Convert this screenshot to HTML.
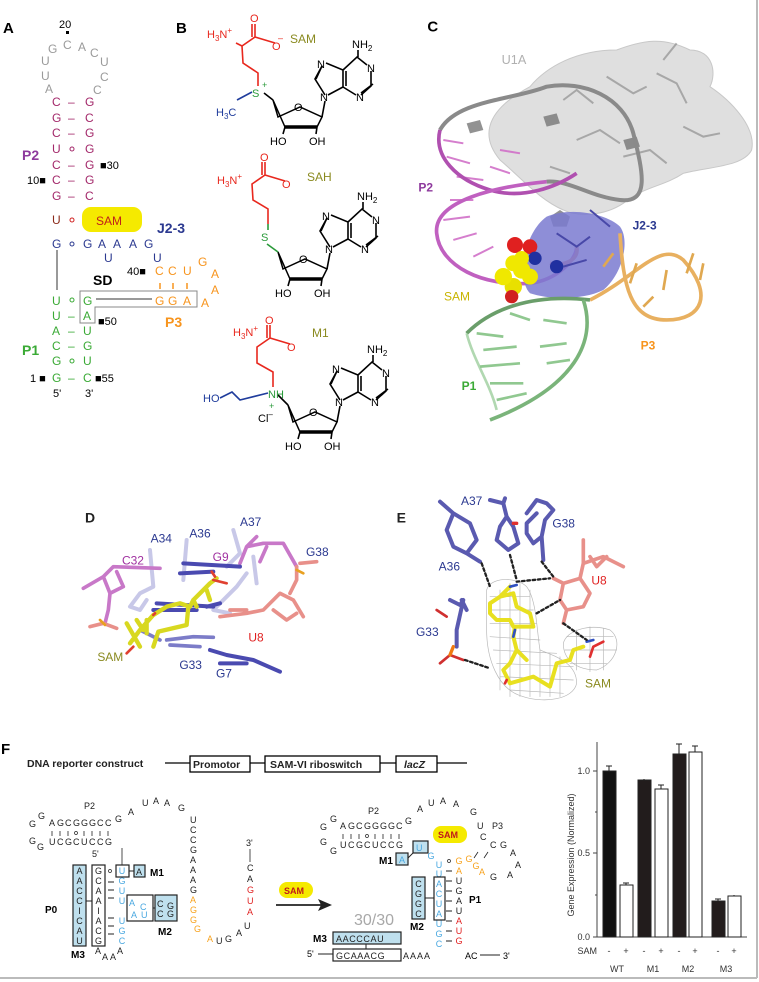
<!DOCTYPE html>
<html><head><meta charset="utf-8"><style>
html,body{margin:0;padding:0;background:#fff}
svg{display:block;font-family:"Liberation Sans",sans-serif}
</style></head><body>
<svg width="759" height="982" viewBox="0 0 759 982" xmlns="http://www.w3.org/2000/svg">
<rect width="759" height="982" fill="#fff"/>
<line x1="757" y1="0" x2="757" y2="978" stroke="#bbb" stroke-width="2"/>
<line x1="0" y1="978" x2="757" y2="978" stroke="#bbb" stroke-width="2"/>

<!-- ===== Panel A ===== -->
<g font-size="12">
<text x="3" y="33" font-size="15" font-weight="bold">A</text>
<text x="59" y="28" font-size="11">20</text>
<rect x="66" y="31" width="3" height="3" fill="#000"/>
<g fill="#9a9a9a">
<text x="48" y="53">G</text><text x="63" y="49">C</text><text x="78" y="51">A</text><text x="90" y="57">C</text>
<text x="41" y="65">U</text><text x="41" y="80">U</text><text x="45" y="93">A</text>
<text x="100" y="66">U</text><text x="100" y="81">C</text><text x="93" y="94">C</text>
</g>
<g fill="#a3286a">
<text x="52" y="106">C</text><text x="85" y="106">G</text>
<text x="52" y="122">G</text><text x="85" y="122">C</text>
<text x="52" y="137">C</text><text x="85" y="137">G</text>
<text x="52" y="153">U</text><text x="85" y="153">G</text>
<text x="52" y="169">C</text><text x="85" y="169">G</text>
<text x="52" y="184">C</text><text x="85" y="184">G</text>
<text x="52" y="200">G</text><text x="85" y="200">C</text>
<text x="68" y="106">–</text><text x="68" y="122">–</text><text x="68" y="137">–</text>
<circle cx="72" cy="149" r="2" fill="none" stroke="#a3286a"/>
<text x="68" y="169">–</text><text x="68" y="184">–</text><text x="68" y="200">–</text>
</g>
<text x="22" y="160" font-size="14" font-weight="bold" fill="#8e3a9d">P2</text>
<text x="100" y="169" font-size="11">■30</text>
<text x="27" y="184" font-size="11">10■</text>
<text x="52" y="224" fill="#8b2a1a">U</text>
<circle cx="72" cy="220" r="2" fill="none" stroke="#d02020"/>
<rect x="82" y="207" width="60" height="25" rx="9" fill="#f5ea00"/>
<text x="96" y="225" fill="#c0201a">SAM</text>
<text x="157" y="233" font-size="14" font-weight="bold" fill="#2b3990">J2-3</text>
<g fill="#2b3990">
<text x="52" y="248">G</text>
<circle cx="72" cy="244" r="2" fill="none" stroke="#2b3990"/>
<text x="83" y="248">G</text><text x="98" y="248">A</text><text x="113" y="248">A</text><text x="129" y="248">A</text><text x="144" y="248">G</text>
<text x="104" y="262">U</text><text x="153" y="262">U</text>
</g>
<text x="127" y="275" font-size="11">40■</text>
<g fill="#f7941d">
<text x="155" y="275">C</text><text x="168" y="275">C</text><text x="183" y="275">U</text>
<text x="198" y="266">G</text><text x="211" y="278">A</text><text x="211" y="294">A</text><text x="201" y="307">A</text>
<line x1="160" y1="283" x2="160" y2="289" stroke="#f7941d" stroke-width="1.5"/>
<line x1="173" y1="283" x2="173" y2="289" stroke="#f7941d" stroke-width="1.5"/>
<line x1="187" y1="283" x2="187" y2="289" stroke="#f7941d" stroke-width="1.5"/>
<text x="155" y="305">G</text><text x="168" y="305">G</text><text x="183" y="305">A</text>
</g>
<text x="93" y="285" font-size="14" font-weight="bold">SD</text>
<line x1="57" y1="250" x2="57" y2="290" stroke="#333"/>
<path d="M80 291 H197 V307 H95 V323 H80 Z" fill="none" stroke="#888"/>
<line x1="96" y1="299" x2="152" y2="299" stroke="#333"/>
<text x="165" y="327" font-size="14" font-weight="bold" fill="#f7941d">P3</text>
<g fill="#3aaa35">
<text x="52" y="305">U</text><circle cx="72" cy="300" r="2" fill="none" stroke="#3aaa35"/><text x="83" y="305">G</text>
<text x="52" y="320">U</text><text x="68" y="320">–</text><text x="83" y="320">A</text>
<text x="52" y="335">A</text><text x="68" y="335">–</text><text x="83" y="335">U</text>
<text x="52" y="350">C</text><text x="68" y="350">–</text><text x="83" y="350">G</text>
<text x="52" y="365">G</text><circle cx="72" cy="361" r="2" fill="none" stroke="#3aaa35"/><text x="83" y="365">U</text>
<text x="52" y="382">G</text><text x="68" y="382">–</text><text x="83" y="382">C</text>
</g>
<text x="98" y="325" font-size="11">■50</text>
<text x="22" y="355" font-size="14" font-weight="bold" fill="#3aaa35">P1</text>
<text x="30" y="382" font-size="11">1 ■</text>
<text x="95" y="382" font-size="11">■55</text>
<text x="53" y="397" font-size="11">5'</text><text x="85" y="397" font-size="11">3'</text>
</g>

<!-- ===== Panel B ===== -->
<text x="176" y="33" font-size="15" font-weight="bold">B</text>
<defs>
<g id="ado" fill="none" stroke="#000" stroke-width="1.6">
<path d="M273 100 L278 117 L300 107 L322 117 L317 127 L285 127 Z" stroke-width="1.5"/>
<path d="M285 127 L317 127" stroke-width="3.5"/>
<path d="M285 127 L283 134 M317 127 L316 134"/>
<path d="M322 117 L325 101"/>
<path d="M325 95 L315 79 L322 66 M328 95 L343 87 L343 70 L326 63 M343 87 L356 95 M361 95 L371 86 L371 71 M367 65 L357 57 L343 70 M346 71 L346 86 M358 57 L358 50 M373 84 L361 93 M316 79 L322 66"/>
</g>
</defs>
<g id="adoSAM">
<use href="#ado"/>
<g font-size="11">
<text x="320" y="101">N</text><text x="317" y="68">N</text><text x="356" y="101">N</text><text x="367" y="72">N</text>
<text x="352" y="48">NH<tspan font-size="8" dy="3">2</tspan></text>
<text x="270" y="145">HO</text><text x="309" y="145">OH</text><text x="294" y="111">O</text>
</g></g>
<!-- SAM side chain -->
<g fill="none" stroke="#e8281e" stroke-width="1.6">
<path d="M258 86 L258 73 L243 63 L242 46 L255 37 L275 43 M255 37 L255 24 M252 37 L252 24 M236 43 L242 46"/>
</g>
<path d="M264 93 L273 100" stroke="#000" stroke-width="1.6"/>
<path d="M237 100 L252 92" stroke="#1f3c9c" stroke-width="1.6"/>
<g font-size="11">
<text x="207" y="38" fill="#e8281e">H<tspan font-size="8" dy="3">3</tspan><tspan dy="-3">N</tspan><tspan font-size="8" dy="-5">+</tspan></text>
<text x="250" y="22" fill="#e8281e">O</text><text x="272" y="50" fill="#e8281e">O</text><text x="278" y="41" fill="#e8281e" font-size="9">–</text>
<text x="252" y="97" fill="#2a9a3a">S</text><text x="262" y="88" fill="#2a9a3a" font-size="9">+</text>
<text x="216" y="116" fill="#1f3c9c">H<tspan font-size="8" dy="3">3</tspan><tspan dy="-3">C</tspan></text>
<text x="290" y="43" font-size="12" fill="#8a8a20">SAM</text>
</g>
<!-- SAH -->
<g transform="translate(5,152)">
<use href="#ado"/>
<g font-size="11">
<text x="320" y="101">N</text><text x="317" y="68">N</text><text x="356" y="101">N</text><text x="367" y="72">N</text>
<text x="352" y="48">NH<tspan font-size="8" dy="3">2</tspan></text>
<text x="270" y="145">HO</text><text x="309" y="145">OH</text><text x="294" y="111">O</text>
</g>
<g fill="none" stroke="#e8281e" stroke-width="1.6">
<path d="M263 72 L263 57 L248 48 L247 32 L260 23 L280 29 M260 23 L260 10 M257 23 L257 10"/>
</g>
<path d="M263 72 L263 78 M262 92 L273 100" stroke="#2a9a3a" stroke-width="1.6"/>
<g font-size="11">
<text x="212" y="32" fill="#e8281e">H<tspan font-size="8" dy="3">3</tspan><tspan dy="-3">N</tspan><tspan font-size="8" dy="-5">+</tspan></text>
<text x="255" y="9" fill="#e8281e">O</text><text x="277" y="36" fill="#e8281e">O</text>
<text x="256" y="89" fill="#2a9a3a">S</text>
<text x="302" y="29" font-size="12" fill="#8a8a20">SAH</text>
</g></g>
<!-- M1 -->
<g transform="translate(15,305)">
<use href="#ado"/>
<g font-size="11">
<text x="320" y="101">N</text><text x="317" y="68">N</text><text x="356" y="101">N</text><text x="367" y="72">N</text>
<text x="352" y="48">NH<tspan font-size="8" dy="3">2</tspan></text>
<text x="270" y="145">HO</text><text x="309" y="145">OH</text><text x="294" y="111">O</text>
</g></g>
<g fill="none" stroke="#e8281e" stroke-width="1.6">
<path d="M273 387 L273 372 L257 363 L257 347 L270 338 L290 344 M270 338 L270 325 M267 338 L267 325"/>
</g>
<path d="M268 393 L240 400 L232 392 L220 398" stroke="#1f3c9c" stroke-width="1.6" fill="none"/>
<path d="M278 395 L288 405" stroke="#000" stroke-width="1.6"/>
<g font-size="11">
<text x="233" y="336" fill="#e8281e">H<tspan font-size="8" dy="3">3</tspan><tspan dy="-3">N</tspan><tspan font-size="8" dy="-5">+</tspan></text>
<text x="265" y="324" fill="#e8281e">O</text><text x="287" y="351" fill="#e8281e">O</text>
<text x="268" y="398" fill="#2a9a3a">NH</text><text x="269" y="409" fill="#2a9a3a" font-size="9">+</text>
<text x="203" y="402" fill="#1f3c9c">HO</text>
<text x="258" y="422">Cl<tspan font-size="8" dy="-5">–</tspan></text>
<text x="312" y="337" font-size="12" fill="#8a8a20">M1</text>
</g>

<!-- ===== Panel C ===== -->
<g transform="translate(390,0) scale(0.3333)">
<text x="112" y="95" font-size="45" font-weight="bold">C</text>
<path d="M420 260 C470 200 560 150 680 150 C760 120 820 110 900 150 C970 150 980 220 960 260 C1020 300 1100 380 1085 450 C1060 500 960 500 880 520 C820 560 760 560 700 610 C640 650 560 650 520 630 C450 600 400 540 330 480 C280 420 270 340 420 260 Z" fill="#d9d9d9" fill-opacity="0.85" stroke="#c8c8c8" stroke-width="3"/>
<g stroke="#999" stroke-width="6" fill="none" opacity="0.8">
<path d="M520 300 l40 -30 l50 40 M650 230 l80 50 l40 -20 M800 220 l60 30 l30 60 M560 420 l70 -30 l60 40 M700 470 l80 -20 l50 40 M880 380 l60 30 l50 -10 M480 500 l60 20 M820 180 l40 -50"/>
</g>
<g fill="#777" opacity="0.8">
<path d="M230 370 l40 -10 l10 30 l-40 10 z"/><path d="M460 350 l40 -10 l10 30 l-40 10 z"/><path d="M700 420 l40 -10 l10 30 l-40 10 z"/><path d="M480 650 l30 -20 l30 20 l-10 30 l-40 0z"/>
</g>
<path d="M150 390 C200 300 370 300 470 260 C580 240 700 290 730 400 C760 520 780 610 690 600 C600 590 540 540 470 545" stroke="#8a8a8a" stroke-width="12" fill="none"/>
<g stroke="#d070c8" stroke-width="6" fill="none" opacity="0.9">
<path d="M160 420 l60 10 M170 470 l70 20 M200 530 l80 10 M180 600 l70 0 M160 660 l80 -10 M190 720 l70 -20 M250 770 l60 -30 M300 500 l60 20 M330 450 l60 10"/>
</g>
<path d="M150 390 C130 470 200 540 300 570 C400 600 500 560 560 520" stroke="#b050b0" stroke-width="11" fill="none"/>
<path d="M470 545 C320 560 130 600 140 700 C150 800 280 860 420 850 C500 840 560 780 560 740" stroke="#c060c0" stroke-width="11" fill="none"/>
<path d="M560 740 C570 780 520 800 480 790" stroke="#e08080" stroke-width="11" fill="none"/>
<path d="M470 650 C540 620 650 640 690 680 C720 720 700 820 640 870 C580 900 480 900 420 880 C380 840 400 700 470 650 Z" fill="#7a7ad0" opacity="0.85"/>
<g stroke="#4848a8" stroke-width="6" fill="none"><path d="M500 700 l60 40 l40 -30 M520 800 l70 -20 M600 630 l60 50"/></g>
<path d="M690 700 C700 860 720 960 830 960 C940 960 970 880 880 780 C810 720 740 830 600 900" stroke="#e8b060" stroke-width="11" fill="none"/>
<g stroke="#e0a850" stroke-width="8" fill="none"><path d="M640 800 l30 -40 M720 850 l20 -60 M820 870 l10 -60 M890 820 l20 -60 M930 840 l10 -50 M760 920 l30 -30"/></g>
<path d="M230 1000 C300 930 420 880 600 900" stroke="#6a9e6a" stroke-width="11" fill="none"/>
<path d="M580 900 C620 1020 560 1160 300 1260" stroke="#7ab47a" stroke-width="11" fill="none"/>
<path d="M230 1000 C250 1080 300 1150 320 1230" stroke="#90c890" stroke-width="8" fill="none" opacity="0.7"/>
<g stroke="#90c890" stroke-width="8" fill="none"><path d="M260 1000 l80 10 M280 1050 l100 -10 M270 1100 l120 -10 M300 1150 l100 0 M320 1200 l90 -20 M460 960 l70 10 M360 940 l60 20 M450 1040 l80 -10 M470 1090 l70 -10"/></g>
<g>
<circle cx="370" cy="860" r="26" fill="#e8e000"/><circle cx="340" cy="830" r="26" fill="#f0e800"/><circle cx="395" cy="810" r="26" fill="#f0e800"/><circle cx="370" cy="790" r="24" fill="#f0e800"/><circle cx="420" cy="830" r="24" fill="#f0e800"/>
<circle cx="375" cy="735" r="24" fill="#e02020"/><circle cx="420" cy="740" r="22" fill="#e02020"/><circle cx="365" cy="890" r="20" fill="#d02020"/>
<circle cx="435" cy="775" r="20" fill="#2030a0"/><circle cx="500" cy="800" r="20" fill="#2030a0"/><circle cx="395" cy="775" r="22" fill="#f0e800"/>
</g>
<g font-size="36" font-weight="bold">
<text x="335" y="192" fill="#b0b0b0" font-weight="normal" font-size="38">U1A</text>
<text x="85" y="575" fill="#8e3a9d">P2</text>
<text x="728" y="688" fill="#2b3990">J2-3</text>
<text x="162" y="902" fill="#c8b400" font-weight="normal">SAM</text>
<text x="752" y="1048" fill="#f7941d">P3</text>
<text x="215" y="1170" fill="#3aaa35">P1</text>
</g>
</g>

<!-- ===== Panel D ===== -->
<g transform="translate(40,500) scale(0.3333)" fill="none" stroke-linecap="round" stroke-linejoin="round">
<text x="135" y="67" font-size="42" font-weight="bold" fill="#222" stroke="none">D</text>
<g stroke="#c8c8e8" stroke-width="12"><path d="M330 150 L340 260 L300 280 L270 320 L300 330 L320 300 M440 120 L430 240 M580 90 L600 160 L560 200 M620 220 L590 260 L520 330 L570 340 M640 170 L650 250"/></g>
<g stroke="#c878c8" stroke-width="11"><path d="M130 265 L190 230 L220 200 L360 205 M190 230 L210 280 L250 260 L230 215 M210 280 L205 330 L195 370 M600 190 L620 140 L670 130 L730 130 L770 200 M620 140 L650 110 M660 185 L680 140"/></g>
<g stroke="#4a4ab0" stroke-width="12"><path d="M430 190 L600 200 M420 220 L520 215 M350 310 L520 320 M340 330 L470 330 M500 320 L540 310 M510 450 L560 465 L640 480 L720 515 M540 490 L620 490"/></g>
<g stroke="#7c7cc8" stroke-width="11"><path d="M380 420 L460 410 L520 412 M390 435 L480 440 M300 390 L360 420"/></g>
<g stroke="#e8908a" stroke-width="11"><path d="M540 350 L620 340 L670 330 L720 280 L760 300 L790 350 M700 330 L740 360 L770 340 M150 380 L190 370 L230 385 M770 200 L770 240 L750 280 M780 190 L830 185 M570 330 L620 330"/></g>
<g stroke="#e8a020" stroke-width="8"><path d="M180 360 L195 375 M770 210 L790 220"/></g>
<g stroke="#d8d820" stroke-width="13"><path d="M270 430 L300 390 L340 345 L380 320 L420 310 L450 320 L460 300 L510 250 L530 235 M320 400 L320 360 M340 440 L355 395 L440 375 L445 320 M290 360 L310 390 M300 440 L260 370 M460 300 L470 320 M500 270 L510 300"/></g>
<g stroke="#e04030" stroke-width="8"><path d="M520 240 L560 250 M515 215 L525 230 M280 440 L260 460 M340 345 L345 340"/></g>
<g font-size="36" stroke="none">
<text x="332" y="128" fill="#2b3990">A34</text><text x="448" y="112" fill="#2b3990">A36</text><text x="600" y="78" fill="#2b3990">A37</text>
<text x="246" y="193" fill="#a030a0">C32</text><text x="518" y="183" fill="#a030a0">G9</text>
<text x="798" y="168" fill="#2b3990">G38</text><text x="625" y="425" fill="#e02020">U8</text>
<text x="172" y="483" fill="#8a8a20">SAM</text><text x="418" y="507" fill="#2b3990">G33</text><text x="528" y="532" fill="#2b3990">G7</text>
</g>
</g>

<!-- ===== Panel E ===== -->
<g transform="translate(390,490) scale(0.3333)" fill="none" stroke-linecap="round" stroke-linejoin="round">
<text x="20" y="98" font-size="42" font-weight="bold" fill="#222" stroke="none">E</text>
<g stroke="#b0b0b0" stroke-width="2" opacity="0.9">
<path d="M290 300 C300 260 380 260 410 290 C440 330 440 420 450 480 C500 500 560 520 560 580 C550 630 460 640 400 620 C320 600 290 500 290 420 Z"/>
<path d="M520 460 C530 420 600 400 660 420 C700 450 680 520 620 540 C560 540 520 510 520 460 Z"/>
<path d="M300 320 L420 320 M300 360 L430 360 M300 400 L440 400 M300 440 L450 450 M310 480 L500 490 M320 520 L550 530 M330 560 L550 570 M360 600 L520 610 M330 300 L330 600 M360 280 L360 620 M390 280 L390 620 M420 300 L420 620 M450 480 L450 620 M480 490 L480 620 M510 500 L510 620 M530 440 L670 440 M525 480 L680 480 M540 520 L650 520 M560 420 L560 540 M600 410 L600 545 M640 415 L640 540"/>
</g>
<g stroke="#5a5ab0" stroke-width="12">
<path d="M150 35 L190 70 L170 120 L190 170 L230 190 L260 150 L240 100 L190 70 M230 190 L270 215"/>
<path d="M300 30 L340 40 L350 80 L330 110 L320 150 L355 180 L385 160 L370 110 L350 80 M345 25 L340 40"/>
<path d="M410 70 L440 30 L470 40 L490 60 L465 90 L455 140 L430 160 L410 130 L410 100 L440 70 M455 140 L460 210"/>
<path d="M180 330 L210 345 L220 330 L200 420 L200 470 M215 330 L230 360"/>
</g>
<path d="M370 100 L380 100" stroke="#e03030" stroke-width="10"/>
<g stroke="#e8908a" stroke-width="11"><path d="M490 265 L520 280 L570 265 L600 310 L580 350 L530 360 L510 330 L520 280 M530 360 L520 400 M570 265 L580 220 L580 150 M580 220 L640 200 L700 230 M600 200 L620 230 L650 200"/></g>
<g stroke="#d03030" stroke-width="8"><path d="M140 360 L170 380 M150 520 L180 495 L220 510"/></g>
<path d="M180 495 L190 470" stroke="#f07a10" stroke-width="10"/>
<g stroke="#e8e020" stroke-width="12"><path d="M300 340 L330 320 L370 310 L380 350 L420 370 L430 410 L400 410 L370 410 L360 390 L320 390 L300 370 Z M375 410 L370 440 L380 480 L360 520 L340 540 L360 580 L430 560 L480 590 L500 520 L540 510 L550 480 L580 470 M330 320 L360 290 M380 480 L410 510"/></g>
<g stroke="#3050c0" stroke-width="8"><path d="M360 290 L380 285 M370 440 L375 420 M590 455 L610 450"/></g>
<g stroke="#e03030" stroke-width="8"><path d="M600 500 L610 470 L640 455 M350 570 L345 580"/></g>
<g stroke="#222" stroke-width="7" stroke-dasharray="8 8"><path d="M275 220 L300 290 M360 195 L380 270 M455 215 L490 260 M380 275 L480 265 M440 370 L510 330 M520 400 L590 450 M225 510 L300 535"/></g>
<g font-size="36" stroke="none">
<text x="213" y="45" fill="#2b3990">A37</text><text x="487" y="113" fill="#2b3990">G38</text><text x="146" y="242" fill="#2b3990">A36</text>
<text x="604" y="283" fill="#e02020">U8</text><text x="78" y="438" fill="#2b3990">G33</text><text x="585" y="593" fill="#8a8a20">SAM</text>
</g>
</g>

<!-- ===== Panel F ===== -->
<text x="1" y="754" font-size="15" font-weight="bold">F</text>
<text x="27" y="767" font-size="10.5" font-weight="bold" fill="#222">DNA reporter construct</text>
<line x1="165" y1="763" x2="467" y2="763" stroke="#000" stroke-width="1.2"/>
<g fill="#fff" stroke="#000" stroke-width="1.3">
<rect x="190" y="756" width="60" height="16"/><rect x="265" y="756" width="115" height="16"/><rect x="396" y="756" width="41" height="16"/>
</g>
<g font-size="10.5" font-weight="bold" fill="#222">
<text x="193" y="768">Promotor</text><text x="270" y="768">SAM-VI riboswitch</text><text x="404" y="768" font-style="italic">lacZ</text>
</g>

<!-- left structure -->
<g font-size="9" fill="#222">
<text x="84" y="809">P2</text>
<text x="29" y="827">G</text><text x="38" y="819">G</text>
<text x="49" y="826">A</text><text x="57" y="826">G</text><text x="65" y="826">C</text><text x="73" y="826">G</text><text x="81" y="826">G</text><text x="89" y="826">G</text><text x="97" y="826">C</text><text x="105" y="826">C</text>
<text x="115" y="822">G</text><text x="128" y="815">A</text><text x="142" y="806">U</text><text x="153" y="804">A</text><text x="164" y="806">A</text><text x="178" y="811">G</text>
<g font-size="9"><text x="190" y="823">U</text><text x="190" y="833">C</text><text x="190" y="843">C</text><text x="190" y="853">G</text><text x="190" y="863">A</text><text x="190" y="873">A</text><text x="190" y="883">A</text><text x="190" y="893">G</text></g>
<g fill="#f7a21d"><text x="190" y="903">A</text><text x="190" y="913">G</text><text x="190" y="923">G</text><text x="194" y="932">G</text><text x="207" y="942">A</text></g>
<text x="216" y="944">U</text><text x="225" y="942">G</text><text x="236" y="936">A</text><text x="244" y="929">U</text>
<text x="29" y="844">G</text><text x="37" y="850">G</text>
<text x="49" y="845">U</text><text x="57" y="845">C</text><text x="65" y="845">G</text><text x="73" y="845">C</text><text x="81" y="845">U</text><text x="89" y="845">C</text><text x="97" y="845">C</text><text x="105" y="845">G</text>
<text x="246" y="846">3'</text>
<text x="247" y="871">C</text><text x="247" y="882">A</text>
<g fill="#e02020"><text x="247" y="893">G</text><text x="247" y="904">U</text><text x="247" y="915">A</text></g>
<text x="92" y="857">5'</text>
</g>
<g stroke="#222" stroke-width="0.8">
<line x1="52" y1="831" x2="52" y2="836"/><line x1="60" y1="831" x2="60" y2="836"/><line x1="68" y1="831" x2="68" y2="836"/><line x1="84" y1="831" x2="84" y2="836"/><line x1="92" y1="831" x2="92" y2="836"/><line x1="100" y1="831" x2="100" y2="836"/><line x1="108" y1="831" x2="108" y2="836"/>
<line x1="250" y1="849" x2="250" y2="862"/><line x1="122" y1="848" x2="122" y2="865"/>
</g>
<circle cx="76" cy="833" r="1.5" fill="none" stroke="#222" stroke-width="0.7"/>
<rect x="73" y="865" width="13" height="81" fill="#bfe0ee" stroke="#222" stroke-width="1.2"/>
<rect x="92" y="865" width="13" height="81" fill="#fff" stroke="#222" stroke-width="1.2"/>
<line x1="86" y1="901" x2="92" y2="901" stroke="#222"/>
<g font-size="9" fill="#222" text-anchor="middle">
<text x="79.5" y="874">A</text><text x="79.5" y="884">A</text><text x="79.5" y="894">C</text><text x="79.5" y="904">C</text><text x="79.5" y="914">I</text><text x="79.5" y="924">C</text><text x="79.5" y="934">A</text><text x="79.5" y="944">U</text>
<text x="98.5" y="874">G</text><text x="98.5" y="884">C</text><text x="98.5" y="894">A</text><text x="98.5" y="904">A</text><text x="98.5" y="914">I</text><text x="98.5" y="924">A</text><text x="98.5" y="934">C</text><text x="98.5" y="944">G</text>
</g>
<g font-size="9" fill="#4aa8e0" text-anchor="middle">
<text x="122" y="874">U</text><text x="122" y="884">G</text><text x="122" y="894">U</text><text x="122" y="904">U</text><text x="122" y="924">U</text><text x="122" y="934">G</text><text x="122" y="944">C</text>
</g>
<g stroke="#222" stroke-width="1"><line x1="108" y1="882" x2="114" y2="882"/><line x1="108" y1="890" x2="114" y2="890"/><line x1="108" y1="898" x2="114" y2="898"/><line x1="108" y1="918" x2="114" y2="918"/><line x1="108" y1="926" x2="114" y2="926"/><line x1="108" y1="934" x2="114" y2="934"/></g>
<circle cx="110" cy="871" r="1.5" fill="none" stroke="#222" stroke-width="0.7"/>
<rect x="116" y="865" width="13" height="12" fill="none" stroke="#222" stroke-width="1.2"/>
<line x1="129" y1="871" x2="134" y2="871" stroke="#222"/>
<rect x="134" y="865" width="11" height="12" fill="#bfe0ee" stroke="#222" stroke-width="1.2"/>
<text x="136" y="875" font-size="9" fill="#222">A</text>
<text x="150" y="876" font-size="10" font-weight="bold">M1</text>
<rect x="127" y="895" width="26" height="26" fill="#fff" stroke="#222" stroke-width="1.2"/>
<line x1="153" y1="908" x2="155" y2="908" stroke="#222"/>
<rect x="155" y="895" width="22" height="26" fill="#bfe0ee" stroke="#222" stroke-width="1.2"/>
<g font-size="9" fill="#4aa8e0"><text x="129" y="906">A</text><text x="140" y="910">C</text><text x="131" y="918">A</text><text x="141" y="918">U</text></g>
<g font-size="9" fill="#222"><text x="157" y="907">C</text><text x="167" y="909">G</text><text x="157" y="917">C</text><text x="167" y="917">G</text></g>
<text x="158" y="935" font-size="10" font-weight="bold">M2</text>
<text x="45" y="913" font-size="10" font-weight="bold">P0</text>
<text x="71" y="958" font-size="10" font-weight="bold">M3</text>
<g font-size="9" fill="#222"><text x="95" y="954">A</text><text x="102" y="960">A</text><text x="110" y="960">A</text><text x="117" y="954">A</text></g>

<!-- arrow -->
<rect x="279" y="882" width="34" height="16" rx="8" fill="#f5ea00"/>
<text x="284" y="894" font-size="9" font-weight="bold" fill="#c01a1a">SAM</text>
<line x1="276" y1="905" x2="322" y2="905" stroke="#222" stroke-width="1.8"/>
<path d="M332 905 L318 899 L321 905 L318 911 Z" fill="#222"/>

<!-- right structure -->
<g font-size="9" fill="#222">
<text x="368" y="814">P2</text>
<text x="320" y="830">G</text><text x="330" y="822">G</text>
<text x="340" y="829">A</text><text x="348" y="829">G</text><text x="356" y="829">C</text><text x="364" y="829">G</text><text x="372" y="829">G</text><text x="380" y="829">G</text><text x="388" y="829">G</text><text x="396" y="829">C</text>
<text x="405" y="824">G</text><text x="417" y="812">A</text><text x="428" y="806">U</text><text x="440" y="804">A</text><text x="453" y="807">A</text><text x="470" y="815">G</text>
<text x="477" y="829">U</text><text x="492" y="829">P3</text>
<text x="480" y="840">C</text><text x="490" y="848">C</text><text x="500" y="848">G</text><text x="510" y="856">A</text><text x="515" y="868">A</text><text x="507" y="878">A</text><text x="490" y="880">G</text>
<text x="320" y="845">G</text><text x="330" y="854">G</text>
<text x="340" y="848">U</text><text x="348" y="848">C</text><text x="356" y="848">G</text><text x="364" y="848">C</text><text x="372" y="848">U</text><text x="380" y="848">C</text><text x="388" y="848">C</text><text x="396" y="848">G</text>
</g>
<g stroke="#222" stroke-width="0.8"><line x1="343" y1="834" x2="343" y2="839"/><line x1="351" y1="834" x2="351" y2="839"/><line x1="359" y1="834" x2="359" y2="839"/><line x1="375" y1="834" x2="375" y2="839"/><line x1="383" y1="834" x2="383" y2="839"/><line x1="391" y1="834" x2="391" y2="839"/><line x1="399" y1="834" x2="399" y2="839"/><line x1="478" y1="852" x2="474" y2="858"/><line x1="488" y1="852" x2="484" y2="858"/></g>
<circle cx="367" cy="836" r="1.5" fill="none" stroke="#222" stroke-width="0.7"/>
<rect x="433" y="826" width="34" height="17" rx="8" fill="#f5ea00"/>
<text x="438" y="838" font-size="9" font-weight="bold" fill="#c01a1a">SAM</text>
<rect x="413" y="841" width="15" height="12" fill="#bfe0ee" stroke="#222" stroke-width="1.2"/>
<text x="416" y="851" font-size="9" fill="#4aa8e0">U</text>
<line x1="413" y1="853" x2="408" y2="858" stroke="#222"/>
<rect x="396" y="853" width="12" height="12" fill="#bfe0ee" stroke="#222" stroke-width="1.2"/>
<text x="399" y="863" font-size="9" fill="#4aa8e0">A</text>
<text x="379" y="864" font-size="10" font-weight="bold">M1</text>
<g font-size="9" fill="#4aa8e0" text-anchor="middle">
<text x="431" y="859">G</text><text x="439" y="868">U</text><text x="439" y="877">U</text><text x="439" y="887">A</text><text x="439" y="897">C</text><text x="439" y="907">U</text><text x="439" y="917">A</text><text x="439" y="927">U</text><text x="439" y="937">G</text><text x="439" y="947">C</text>
</g>
<rect x="434" y="877" width="11" height="43" fill="none" stroke="#222" stroke-width="1.2"/>
<rect x="412" y="877" width="13" height="42" fill="#bfe0ee" stroke="#222" stroke-width="1.2"/>
<line x1="425" y1="898" x2="434" y2="898" stroke="#222"/>
<g font-size="9" fill="#222" text-anchor="middle"><text x="418.5" y="887">C</text><text x="418.5" y="897">G</text><text x="418.5" y="907">G</text><text x="418.5" y="917">C</text></g>
<text x="410" y="930" font-size="10" font-weight="bold">M2</text>
<circle cx="449" cy="861" r="1.5" fill="none" stroke="#222" stroke-width="0.7"/>
<g font-size="9" text-anchor="middle">
<text x="459" y="864" fill="#f7a21d">G</text><text x="469" y="862" fill="#f7a21d">G</text><text x="476" y="869" fill="#f7a21d">G</text><text x="482" y="875" fill="#f7a21d">A</text>
<text x="459" y="874" fill="#f7a21d">A</text><text x="459" y="884" fill="#222">U</text><text x="459" y="894" fill="#222">G</text><text x="459" y="904" fill="#222">A</text><text x="459" y="914" fill="#222">U</text>
<text x="459" y="924" fill="#e02020">A</text><text x="459" y="934" fill="#e02020">U</text><text x="459" y="944" fill="#e02020">G</text>
</g>
<g stroke="#222" stroke-width="1"><line x1="446" y1="871" x2="452" y2="871"/><line x1="446" y1="881" x2="452" y2="881"/><line x1="446" y1="891" x2="452" y2="891"/><line x1="446" y1="901" x2="452" y2="901"/><line x1="446" y1="911" x2="452" y2="911"/><line x1="446" y1="921" x2="452" y2="921"/><line x1="446" y1="931" x2="452" y2="931"/><line x1="446" y1="941" x2="452" y2="941"/></g>
<text x="469" y="903" font-size="10" font-weight="bold">P1</text>
<text x="354" y="925" font-size="16" fill="#a8a8a8">30/30</text>
<text x="313" y="942" font-size="10" font-weight="bold">M3</text>
<rect x="333" y="932" width="68" height="12" fill="#bfe0ee" stroke="#222" stroke-width="1.2"/>
<text x="336" y="942" font-size="9" fill="#222" letter-spacing="0.6">AACCCAU</text>
<line x1="366" y1="944" x2="366" y2="950" stroke="#222"/>
<text x="307" y="957" font-size="9">5'</text><line x1="318" y1="954" x2="333" y2="954" stroke="#222"/>
<rect x="333" y="949" width="68" height="12" fill="#fff" stroke="#222" stroke-width="1.2"/>
<text x="336" y="959" font-size="9" fill="#222" letter-spacing="0.6">GCAAACG</text>
<text x="403" y="959" font-size="9" fill="#222" letter-spacing="1">AAAA</text>
<text x="465" y="959" font-size="9">AC</text><line x1="480" y1="955" x2="500" y2="955" stroke="#222"/><text x="503" y="959" font-size="9">3'</text>

<!-- bar chart -->
<line x1="597" y1="742" x2="597" y2="937" stroke="#444"/>
<line x1="597" y1="937" x2="747" y2="937" stroke="#444"/>
<g stroke="#444"><line x1="593" y1="771" x2="597" y2="771"/><line x1="595" y1="812" x2="597" y2="812"/><line x1="593" y1="853" x2="597" y2="853"/><line x1="595" y1="895" x2="597" y2="895"/><line x1="593" y1="937" x2="597" y2="937"/></g>
<g font-size="9" fill="#333" text-anchor="end"><text x="590" y="774">1.0</text><text x="590" y="856">0.5</text><text x="590" y="940">0.0</text></g>
<text transform="translate(574,855) rotate(-90)" font-size="9" fill="#333" text-anchor="middle">Gene Expression (Normalized)</text>
<g stroke="#222" stroke-width="1">
<rect x="603" y="771" width="13" height="166" fill="#111"/>
<rect x="620" y="885" width="13" height="52" fill="#fff"/>
<rect x="638" y="780" width="13" height="157" fill="#221c1c"/>
<rect x="655" y="789" width="13" height="148" fill="#fff"/>
<rect x="673" y="754" width="13" height="183" fill="#221c1c"/>
<rect x="689" y="752" width="13" height="185" fill="#fff"/>
<rect x="712" y="901" width="13" height="36" fill="#221c1c"/>
<rect x="728" y="896" width="13" height="41" fill="#fff"/>
<path d="M609 771 V766 M606 766 H612 M626 885 V883 M623 883 H629 M644 780 V779 M661 789 V785 M658 785 H664 M679 754 V744 M676 744 H682 M695 752 V746 M692 746 H698 M718 901 V899 M715 899 H721 M734 896 V895"/>
</g>
<g font-size="9" fill="#333" text-anchor="middle">
<text x="597" y="954" text-anchor="end">SAM</text>
<text x="609" y="954">-</text><text x="626" y="954">+</text><text x="644" y="954">-</text><text x="661" y="954">+</text><text x="679" y="954">-</text><text x="695" y="954">+</text><text x="718" y="954">-</text><text x="734" y="954">+</text>
<text x="617" y="972">WT</text><text x="653" y="972">M1</text><text x="688" y="972">M2</text><text x="726" y="972">M3</text>
</g>
</svg>
</body></html>
